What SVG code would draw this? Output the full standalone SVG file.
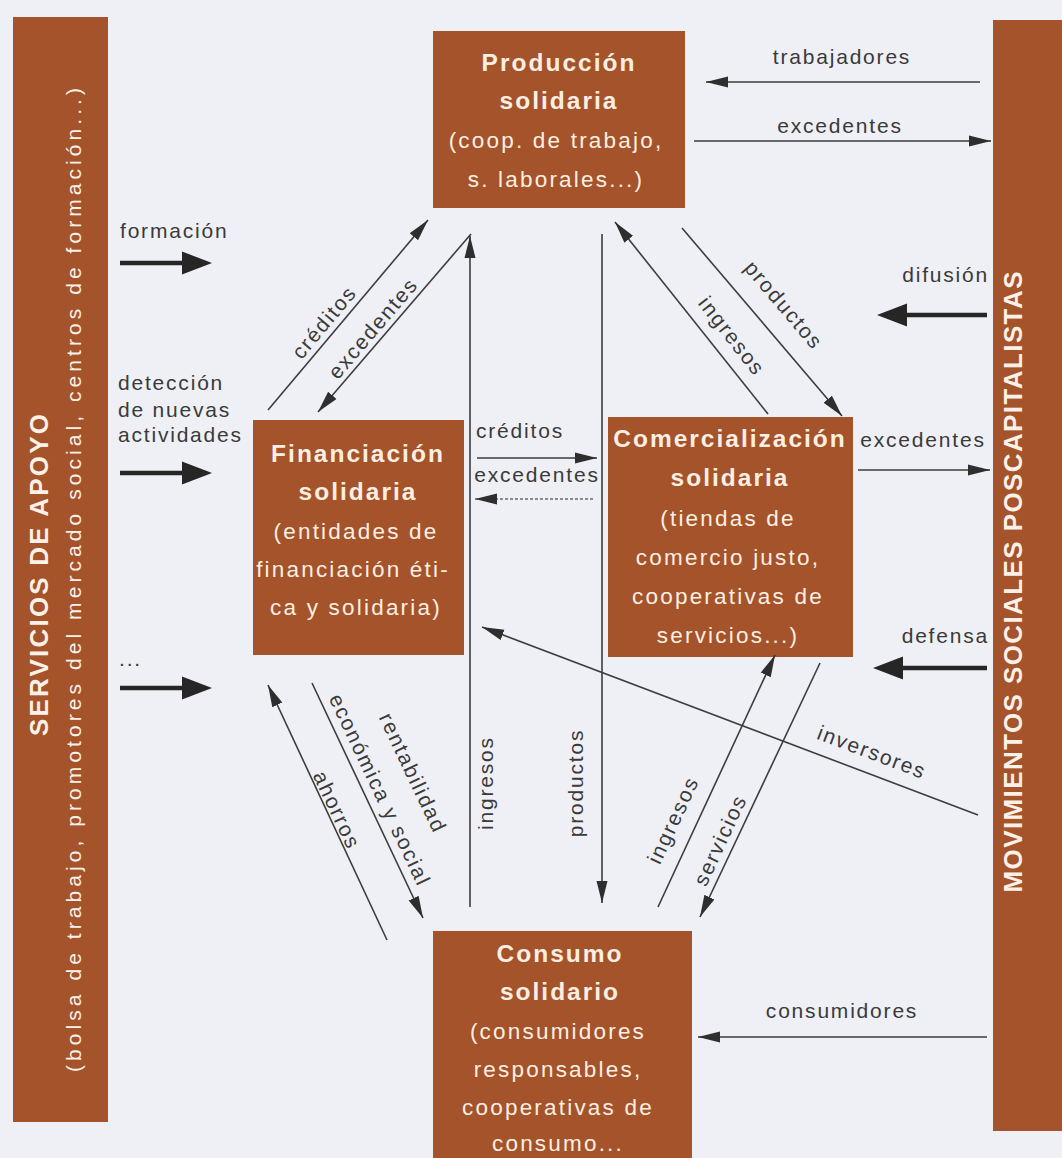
<svg xmlns="http://www.w3.org/2000/svg" width="1062" height="1158" viewBox="0 0 1062 1158">
<style>
.bg{fill:#EFF0F5}
.box{fill:#A5532A}
.t{font-family:"Liberation Sans",Arial,sans-serif;fill:#FBEFE3;font-size:22.5px;letter-spacing:2.2px;text-anchor:middle}
.tb{font-weight:bold;font-size:24.5px;letter-spacing:2px}
.bar{font-family:"Liberation Sans",Arial,sans-serif;fill:#FBF1E8;text-anchor:middle}
.lbl{font-family:"Liberation Sans",Arial,sans-serif;fill:#3a3a3a;font-size:21px;letter-spacing:1.8px}
.m{text-anchor:middle}
.e{text-anchor:end}
.ln{stroke:#3d3d3d;stroke-width:1.6;fill:none;marker-end:url(#ah)}
.dash{stroke-dasharray:3 2;stroke:#6a6a6a}
.thick{fill:#262626}
</style>
<defs>
<marker id="ah" markerUnits="userSpaceOnUse" markerWidth="22" markerHeight="12" refX="22" refY="6" orient="auto" viewBox="0 0 22 12">
<path d="M0,0.5 L22,6 L0,11.5 Z" fill="#2e2e2e"/>
</marker>
</defs>
<rect class="bg" x="0" y="0" width="1062" height="1158"/>

<g id="servicios-de-apoyo">
<rect class="box" x="13" y="17" width="95" height="1105"/>
<text class="bar" transform="translate(48,575) rotate(-90)" font-size="26" font-weight="bold" textLength="322" lengthAdjust="spacing">SERVICIOS DE APOYO</text>
<text class="bar" transform="translate(81,580) rotate(-90)" font-size="21" textLength="984" lengthAdjust="spacing">(bolsa de trabajo, promotores del mercado social, centros de formación...)</text>
</g>

<g id="movimientos-sociales">
<rect class="box" x="993" y="20" width="69" height="1111"/>
<text class="bar" transform="translate(1022,582) rotate(-90)" font-size="26" font-weight="bold" textLength="621" lengthAdjust="spacing">MOVIMIENTOS SOCIALES POSCAPITALISTAS</text>
</g>

<g id="produccion">
<rect class="box" x="433" y="31" width="252" height="177"/>
<text class="t tb" x="559" y="71">Producción</text>
<text class="t tb" x="559" y="109">solidaria</text>
<text class="t" x="556" y="148">(coop. de trabajo,</text>
<text class="t" x="556" y="187">s. laborales...)</text>
</g>

<g id="financiacion">
<rect class="box" x="253" y="420" width="211" height="235"/>
<text class="t tb" x="358" y="462">Financiación</text>
<text class="t tb" x="358" y="500">solidaria</text>
<text class="t" x="356" y="539">(entidades de</text>
<text class="t" x="353" y="577">financiación éti-</text>
<text class="t" x="356" y="615">ca y solidaria)</text>
</g>

<g id="comercializacion">
<rect class="box" x="608" y="417" width="245" height="240"/>
<text class="t tb" x="730" y="447">Comercialización</text>
<text class="t tb" x="730" y="486">solidaria</text>
<text class="t" x="728" y="526">(tiendas de</text>
<text class="t" x="728" y="565">comercio justo,</text>
<text class="t" x="728" y="604">cooperativas de</text>
<text class="t" x="728" y="643">servicios...)</text>
</g>

<g id="consumo">
<rect class="box" x="433" y="931" width="259" height="240"/>
<text class="t tb" x="560" y="962">Consumo</text>
<text class="t tb" x="560" y="1000">solidario</text>
<text class="t" x="558" y="1039">(consumidores</text>
<text class="t" x="558" y="1077">responsables,</text>
<text class="t" x="558" y="1115">cooperativas de</text>
<text class="t" x="558" y="1151">consumo...</text>
</g>

<g id="connectors">
<path class="ln" d="M980,82 L706,82"/>
<path class="ln" d="M694,141 L991,141"/>
<path class="ln" d="M268,410 L428,220"/>
<path class="ln" d="M471,234 L318,412"/>
<path class="ln" d="M470,907 L470,236"/>
<path class="ln" d="M602,234 L602,903"/>
<path class="ln" d="M682,228 L842,416"/>
<path class="ln" d="M768,414 L615,222"/>
<path class="ln" d="M477,458 L597,458"/>
<path class="ln dash" d="M593,499 L475,499"/>
<path class="ln" d="M858,470 L990,470"/>
<path class="ln" d="M312,683 L423,918"/>
<path class="ln" d="M387,940 L268,685"/>
<path class="ln" d="M658,907 L775,655"/>
<path class="ln" d="M820,663 L700,917"/>
<path class="ln" d="M978,815 L482,627"/>
<path class="ln" d="M987,1037 L698,1037"/>
<path class="thick" d="M120,260.7 H182 V251.5 L212,263 L182,274.5 V265.3 H120 Z"/>
<path class="thick" d="M120,470.7 H182 V461.5 L212,473 L182,484.5 V475.3 H120 Z"/>
<path class="thick" d="M120,685.7 H182 V676.5 L212,688 L182,699.5 V690.3 H120 Z"/>
<path class="thick" d="M987,312.7 H907 V303.5 L877,315 L907,326.5 V317.3 H987 Z"/>
<path class="thick" d="M987,665.7 H903 V656.5 L873,668 L903,679.5 V670.3 H987 Z"/>
</g>

<g id="labels">
<text class="lbl m" x="842" y="64">trabajadores</text>
<text class="lbl m" x="840" y="133">excedentes</text>
<text class="lbl" x="120" y="238">formación</text>
<text class="lbl" x="118" y="390">detección</text>
<text class="lbl" x="118" y="417">de nuevas</text>
<text class="lbl" x="118" y="442">actividades</text>
<text class="lbl" x="119" y="666" font-size="13" letter-spacing="0">...</text>
<text class="lbl e" x="989" y="282">difusión</text>
<text class="lbl m" x="923" y="447">excedentes</text>
<text class="lbl e" x="989" y="643">defensa</text>
<text class="lbl m" x="520" y="438">créditos</text>
<text class="lbl m" x="537" y="482">excedentes</text>
<text class="lbl m" x="842" y="1018">consumidores</text>
<text class="lbl m" transform="translate(324,322) rotate(-50)" dy="0.35em">créditos</text>
<text class="lbl m" transform="translate(373,328) rotate(-49.5)" dy="0.35em">excedentes</text>
<text class="lbl m" transform="translate(784,305) rotate(49.6)" dy="0.35em">productos</text>
<text class="lbl m" transform="translate(732,336) rotate(52)" dy="0.35em">ingresos</text>
<text class="lbl m" transform="translate(413,773) rotate(64.7)" dy="0.35em">rentabilidad</text>
<text class="lbl m" transform="translate(380,790) rotate(64.7)" dy="0.35em">económica y social</text>
<text class="lbl m" transform="translate(337,810) rotate(64.7)" dy="0.35em">ahorros</text>
<text class="lbl m" transform="translate(486,783) rotate(-90)" dy="0.35em">ingresos</text>
<text class="lbl m" transform="translate(576,783) rotate(-90)" dy="0.35em">productos</text>
<text class="lbl m" transform="translate(673,820) rotate(-65)" dy="0.35em">ingresos</text>
<text class="lbl m" transform="translate(720,840) rotate(-65)" dy="0.35em">servicios</text>
<text class="lbl m" transform="translate(872,752) rotate(20.8)" dy="0.35em">inversores</text>
</g>
</svg>
